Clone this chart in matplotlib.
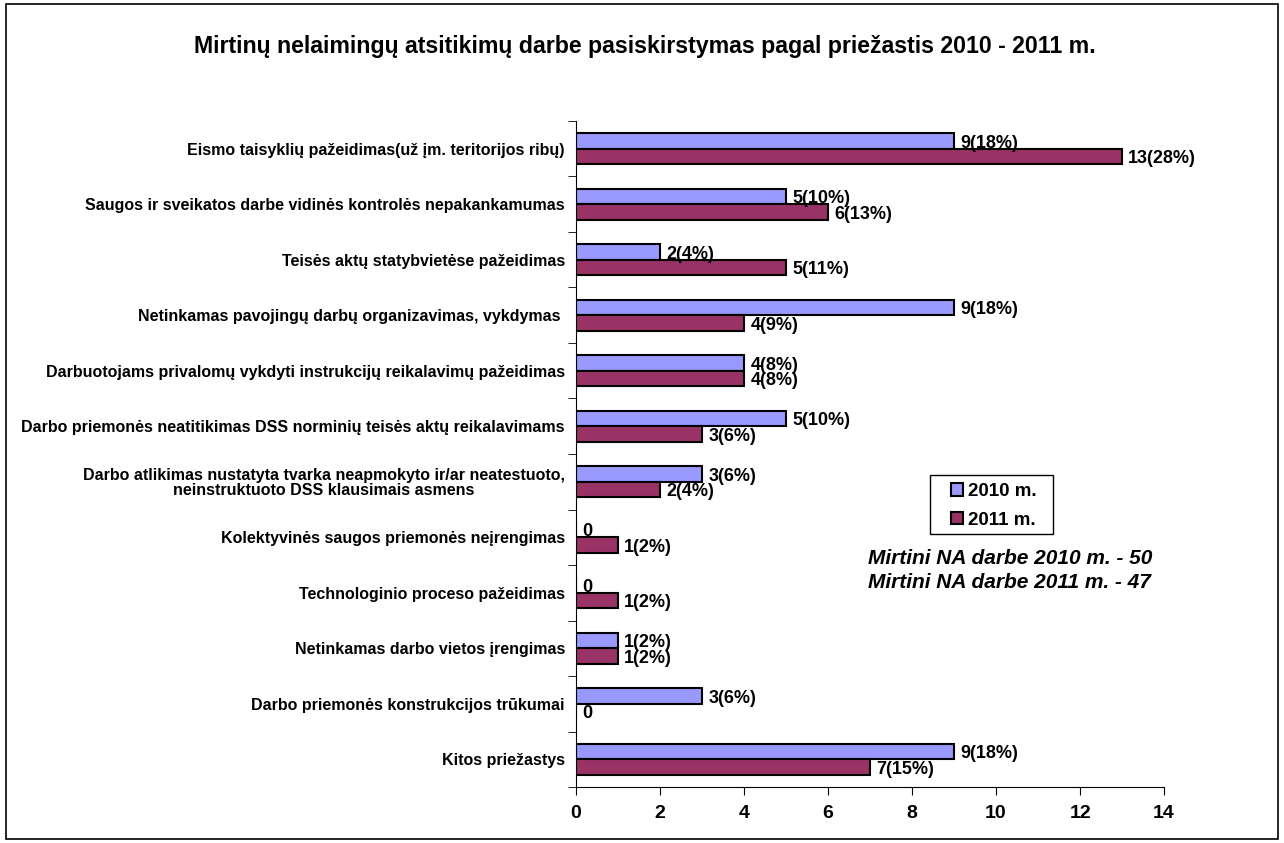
import numpy as np
import matplotlib
matplotlib.use("Agg")
import matplotlib.pyplot as plt
from matplotlib.patches import Rectangle
from matplotlib.ticker import FixedLocator

plt.rcParams['font.family'] = ['Liberation Sans', 'DejaVu Sans']

# --- Données ---
categories = [
    "Eismo taisyklių pažeidimas(už įm. teritorijos ribų)",
    "Saugos ir sveikatos darbe vidinės kontrolės nepakankamumas",
    "Teisės aktų statybvietėse pažeidimas",
    "Netinkamas pavojingų darbų organizavimas, vykdymas ",
    "Darbuotojams privalomų vykdyti instrukcijų reikalavimų pažeidimas",
    "Darbo priemonės neatitikimas DSS norminių teisės aktų reikalavimams",
    "Darbo atlikimas nustatyta tvarka neapmokyto ir/ar neatestuoto,\nneinstruktuoto DSS klausimais asmens",
    "Kolektyvinės saugos priemonės neįrengimas",
    "Technologinio proceso pažeidimas",
    "Netinkamas darbo vietos įrengimas",
    "Darbo priemonės konstrukcijos trūkumai",
    "Kitos priežastys",
]
values_2010 = [9, 5, 2, 9, 4, 5, 3, 0, 0, 1, 3, 9]
values_2011 = [13, 6, 5, 4, 4, 3, 2, 1, 1, 1, 0, 7]
labels_2010 = ["9(18%)", "5(10%)", "2(4%)", "9(18%)", "4(8%)", "5(10%)",
               "3(6%)", "0", "0", "1(2%)", "3(6%)", "9(18%)"]
labels_2011 = ["13(28%)", "6(13%)", "5(11%)", "4(9%)", "4(8%)", "3(6%)",
               "2(4%)", "1(2%)", "1(2%)", "1(2%)", "0", "7(15%)"]
series_names = ["2010 m.", "2011 m."]
colors = ["#9999FF", "#993366"]

fig = plt.figure(figsize=(12.84, 8.43), dpi=100)
ax = fig.add_axes([0.4486, 0.0664, 0.458, 0.7901])

y = np.arange(len(categories))
h = 0.28
b1 = ax.barh(y - h / 2, values_2010, height=h, color=colors[0],
             edgecolor="black", linewidth=1.5, label=series_names[0])
b2 = ax.barh(y + h / 2, values_2011, height=h, color=colors[1],
             edgecolor="black", linewidth=1.5, label=series_names[1])

for bars, labs in ((b1, labels_2010), (b2, labels_2011)):
    for rect, lab in zip(bars, labs):
        ax.text(rect.get_width() + 0.15, rect.get_y() + rect.get_height() / 2 + 0.04,
                lab, va="center", ha="left", fontsize=13, fontweight="bold")

ax.set_xlim(0, 14)
ax.set_ylim(len(categories) - 0.5, -0.5)
ax.set_xticks(np.arange(0, 15, 2))
ax.set_yticks(y)
ax.set_yticklabels(categories, fontsize=11.5, fontweight="bold", multialignment="center")
for t in ax.get_yticklabels():
    t.set_linespacing(1.0)
ax.yaxis.set_minor_locator(FixedLocator(np.arange(-0.5, len(categories), 1)))
ax.tick_params(axis="y", which="major", length=0, pad=8)
ax.tick_params(axis="y", which="minor", length=6, direction="out")
ax.tick_params(axis="x", length=6, direction="out", labelsize=14, pad=7)
for t in ax.get_xticklabels():
    t.set_fontweight("bold")

for side in ("top", "right"):
    ax.spines[side].set_visible(False)

# légende sans cadre + cadre dessiné à part
leg = ax.legend(loc="center left", bbox_to_anchor=(0.7407, 0.3998),
                bbox_transform=fig.transFigure, borderaxespad=0, borderpad=0,
                prop={"weight": "bold", "size": 13.5}, frameon=False,
                handlelength=0.64, handleheight=0.64, handletextpad=0.25,
                labelspacing=0.62)
fig.patches.append(Rectangle((930 / 1284, 1 - 534 / 843), 123 / 1284, 59 / 843,
                             transform=fig.transFigure, fill=False,
                             edgecolor="black", linewidth=1.0))

fig.text(0.676, 0.338, "Mirtini NA darbe 2010 m. - 50", fontsize=15,
         fontweight="bold", style="italic", va="center")
fig.text(0.676, 0.309, "Mirtini NA darbe 2011 m. - 47", fontsize=15,
         fontweight="bold", style="italic", va="center")

fig.text(0.502, 0.945,
         "Mirtinų nelaimingų atsitikimų darbe pasiskirstymas pagal priežastis 2010 - 2011 m.",
         ha="center", va="center", fontsize=16.7, fontweight="bold")

fig.patches.append(Rectangle((0.005, 0.005), 0.99, 0.99, transform=fig.transFigure,
                             fill=False, edgecolor="black", linewidth=1.2))

fig.savefig("out.png", dpi=100)
